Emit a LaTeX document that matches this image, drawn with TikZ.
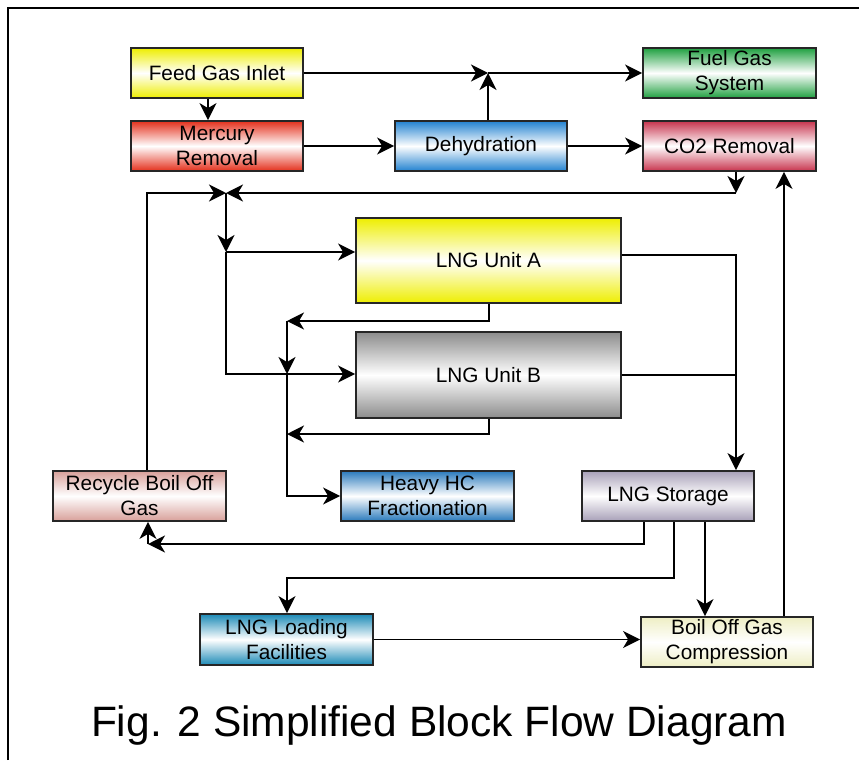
\documentclass[tikz,border=0pt]{standalone}
\usepackage{fontspec}
\setmainfont{Liberation Sans}
\usetikzlibrary{arrows.meta}
\definecolor{cyel}{HTML}{EEEE00}
\definecolor{cred}{HTML}{E4301C}
\definecolor{cblue}{HTML}{2282D0}
\definecolor{cgreen}{HTML}{1FA040}
\definecolor{ccrim}{HTML}{C8344E}
\definecolor{cgray}{HTML}{8C8C8C}
\definecolor{cpink}{HTML}{D8A09A}
\definecolor{chc}{HTML}{2A7ABC}
\definecolor{clav}{HTML}{A8A0B8}
\definecolor{cload}{HTML}{1C8AB6}
\definecolor{cpale}{HTML}{EEEEC4}
\tikzset{
  x=1pt, y=-1pt,
  blk/.style={draw=black!85, line width=1.8pt, inner sep=0pt, align=center,
    font=\fontsize{20.8}{25}\selectfont, top color=#1, bottom color=#1, middle color=white},
  arr/.style={line width=1.9pt, -{Stealth[length=17pt,width=17pt,inset=5pt]}},
  ln/.style={line width=1.9pt},
}
\begin{document}
\begin{tikzpicture}
\useasboundingbox (0,0) rectangle (859,760);
\draw[line width=2.8pt] (8,760) -- (8,8) -- (859,8);
% blocks
\node[blk=cyel, minimum width=172pt, minimum height=50pt] (feed) at (217,73) {Feed Gas Inlet};
\node[blk=cred, minimum width=172pt, minimum height=50pt] (merc) at (217,146) {Mercury\\Removal};
\node[blk=cblue, minimum width=172pt, minimum height=50pt] (dehy) at (481,146) {Dehydration};
\node[blk=cgreen, minimum width=173pt, minimum height=50pt] (fuel) at (729.5,73) {Fuel Gas\\System};
\node[blk=ccrim, minimum width=173pt, minimum height=50pt] (co2) at (729.5,146) {CO2 Removal};
\node[blk=cyel, minimum width=265pt, minimum height=85pt] (unitA) at (488.5,260.5) {LNG Unit A};
\node[blk=cgray, minimum width=265pt, minimum height=86pt] (unitB) at (488.5,375) {LNG Unit B};
\node[blk=cpink, minimum width=173pt, minimum height=50pt] (recy) at (139.5,496) {Recycle Boil Off\\Gas};
\node[blk=chc, minimum width=173pt, minimum height=50pt] (heavy) at (427.5,496) {Heavy HC\\Fractionation};
\node[blk=clav, minimum width=172pt, minimum height=50pt] (stor) at (668,496) {LNG Storage};
\node[blk=cload, minimum width=173pt, minimum height=51pt] (load) at (286.5,639.5) {LNG Loading\\Facilities};
\node[blk=cpale, minimum width=172pt, minimum height=50pt] (boil) at (727,642) {Boil Off Gas\\Compression};
\node[font=\fontsize{42.5}{48}\selectfont, anchor=base] (title) at (439,736) {Fig. 2 Simplified Block Flow Diagram};
% junction coordinates
\coordinate (j1) at (488,73);
\coordinate (a1) at (208,100);
\coordinate (c1) at (736,193);
\coordinate (j2) at (226,193);
\coordinate (r1) at (147,193);
\coordinate (j3) at (226,252);
\coordinate (j4) at (226,374);
\coordinate (k1) at (736,255);
\coordinate (k2) at (736,375);
\coordinate (h1) at (489,321);
\coordinate (h2) at (287,321);
\coordinate (h3) at (287,374);
\coordinate (h4) at (287,496);
\coordinate (h5) at (489,434);
\coordinate (h6) at (287,434);
\coordinate (s1) at (644,544);
\coordinate (s2) at (148,544);
\coordinate (t1) at (674,578);
\coordinate (t2) at (287,578);
\coordinate (u1) at (705,560);
\coordinate (v1) at (784,400);
% connectors
\draw[arr] (feed.south -| a1) -- (merc.north -| a1);
\draw[arr] (feed.east) -- (j1);
\draw[arr] (j1) -- (fuel.west);
\draw[arr] (j1 |- dehy.north) -- (j1);
\draw[arr] (merc.east) -- (dehy.west);
\draw[arr] (dehy.east) -- (co2.west);
\draw[arr] (co2.south -| c1) -- (c1);
\draw[arr] (c1) -- (j2);
\draw[arr] (recy.north -| r1) -- (r1) -- (j2);
\draw[arr] (j2) -- (j3);
\draw[arr] (j3) -- (j3 -| unitA.west);
\draw[arr] (j3) -- (j4) -- (j4 -| unitB.west);
\draw[arr] (k1 -| unitA.east) -- (k1) -- (k1 |- stor.north);
\draw[ln] (k2 -| unitB.east) -- (k2);
\draw[arr] (h1 |- unitA.south) -- (h1) -- (h2);
\draw[arr] (h2) -- (h3);
\draw[arr] (h3) -- (h4) -- (heavy.west);
\draw[arr] (h5 |- unitB.south) -- (h5) -- (h6);
\draw[arr] (s1 |- stor.south) -- (s1) -- (s2);
\draw[arr] (s2) -- (s2 |- recy.south);
\draw[arr] (t1 |- stor.south) -- (t1) -- (t2) -- (t2 |- load.north);
\draw[arr] (u1 |- stor.south) -- (u1 |- boil.north);
\draw[arr] (load.east) -- (load.east -| boil.west);
\draw[arr] (v1 |- boil.north) -- (v1 |- co2.south);
\end{tikzpicture}
\end{document}
